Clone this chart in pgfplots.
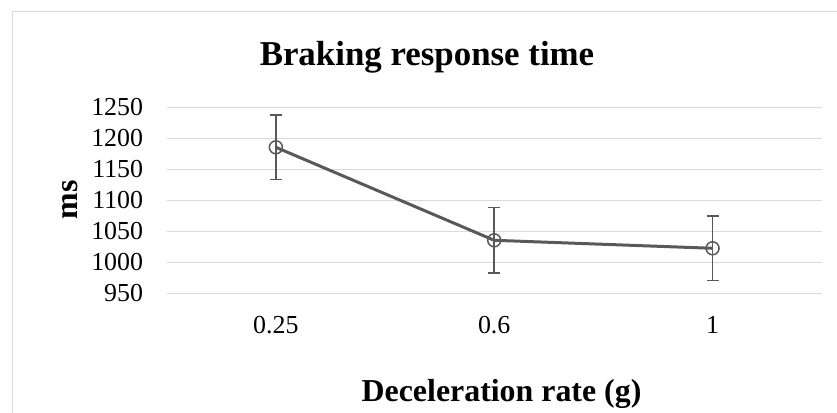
\documentclass[border=0pt]{standalone}
\usepackage{fontspec}
\setmainfont{Liberation Serif}
\usepackage{pgfplots}
\pgfplotsset{compat=1.18}
\definecolor{lc}{HTML}{595959}
\definecolor{gc}{HTML}{D9D9D9}
\begin{document}
\begin{tikzpicture}[x=1bp,y=1bp]
\useasboundingbox (0,0) rectangle (837,412);
\draw[gc, line width=1.5bp] (12.7,-5) -- (12.7,400.3) -- (845,400.3);
\begin{axis}[
  scale only axis, width=655bp, height=186bp,
  at={(166.7bp,118.7bp)}, anchor=south west,
  xmin=-0.5, xmax=2.5, ymin=950, ymax=1250,
  xtick={0,1,2}, xticklabels={0.25,0.6,1},
  ytick={950,1000,...,1250},
  axis line style={draw=none},
  major tick length=0pt,
  ymajorgrids, grid style={gc, line width=1.5bp},
  /pgf/number format/assume math mode=true,
  /pgf/number format/set thousands separator={},
  tick label style={font=\fontsize{26}{26}\selectfont, inner sep=0pt},
  yticklabel style={anchor=east, xshift=-23.4bp},
  xticklabel style={anchor=base, yshift=-40bp},
  clip=false,
]
\addplot[color=lc, line width=3bp, mark=o, mark size=6.5bp,
  mark options={line width=1.5bp, fill=none},
  error bars/.cd, y dir=both, y explicit,
  error bar style={line width=1.5bp, color=lc},
  error mark options={line width=1.5bp, mark size=6bp, color=lc, rotate=90}]
coordinates {
  (0,1185.5) +- (0,52)
  (1,1035.5) +- (0,52.5)
  (2,1022.6) +- (0,52)
};
\end{axis}
\node[anchor=base, font=\fontsize{35}{35}\selectfont\bfseries] at (427,346.3) {Braking response time};
\node[anchor=base, font=\fontsize{32}{32}\selectfont\bfseries] at (501.5,11) {Deceleration rate (g)};
\node[anchor=base, rotate=90, font=\fontsize{32}{32}\selectfont\bfseries] at (77.3,212) {ms};
\end{tikzpicture}
\end{document}
